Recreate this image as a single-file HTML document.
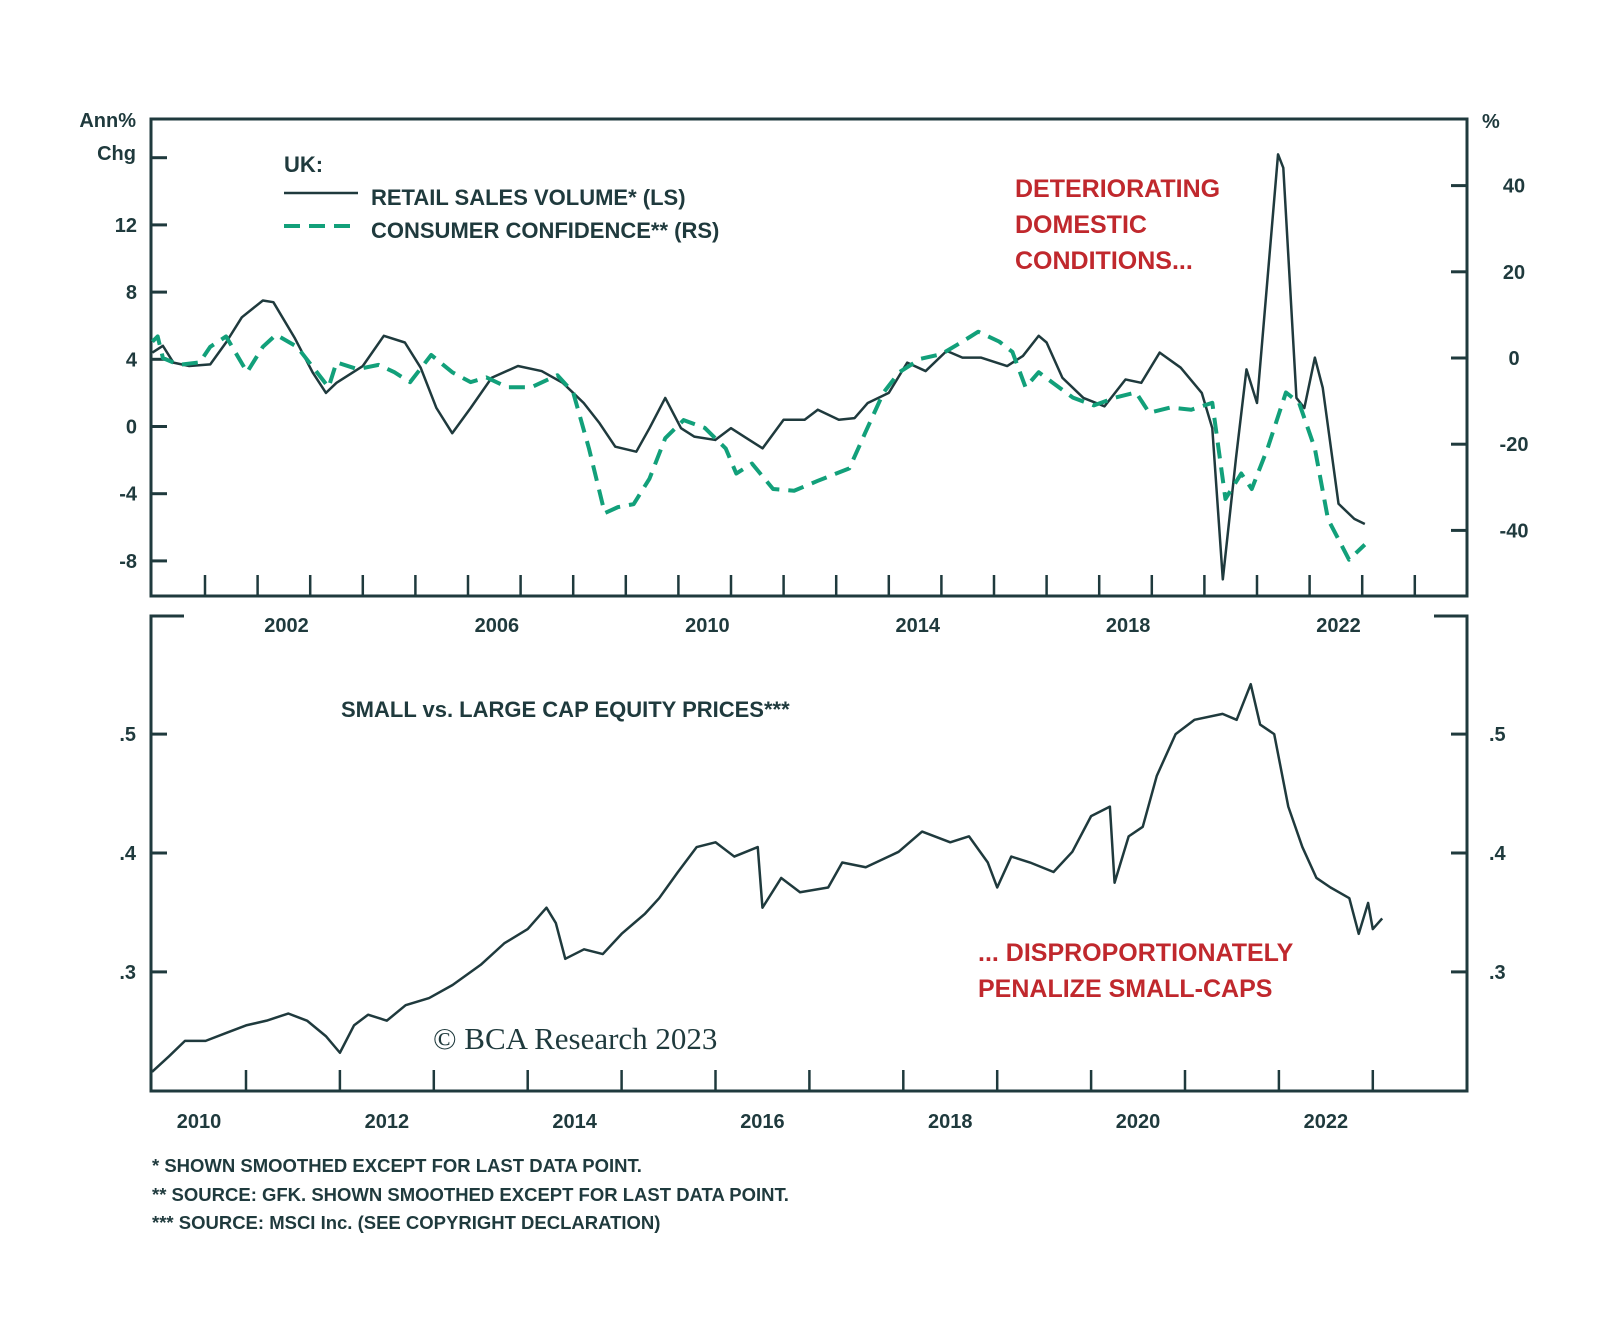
<!DOCTYPE html>
<html><head><meta charset="utf-8"><style>
html,body{margin:0;padding:0;background:#fff;}
svg{display:block;font-family:"Liberation Sans",sans-serif;}
.t{fill:#1f3a3d;font-weight:bold;font-size:20px;}
.lg{fill:#1f3a3d;font-weight:bold;font-size:22px;}
.r{fill:#c0282d;font-size:25px;font-weight:bold;}
.f{fill:#1f3a3d;font-size:18.5px;font-weight:bold;}
</style></head><body>
<svg id="chart" width="1600" height="1318" viewBox="0 0 1600 1318" xmlns="http://www.w3.org/2000/svg">
<g id="topPanel"></g>
<g id="botPanel"></g>
<text class="t" x="136" y="127" text-anchor="end">Ann%</text>
<text class="t" x="136" y="160" text-anchor="end">Chg</text>
<text class="t" x="1482" y="128">%</text>
<text class="lg" x="284" y="172">UK:</text>
<line x1="284" y1="193" x2="358" y2="193" stroke="#1f3a3d" stroke-width="2.5"/>
<text class="lg" x="371" y="205">RETAIL SALES VOLUME* (LS)</text>
<line x1="284" y1="226" x2="358" y2="226" stroke="#12a07a" stroke-width="4" stroke-dasharray="16 9"/>
<text class="lg" x="371" y="238">CONSUMER CONFIDENCE** (RS)</text>
<text class="r" x="1015" y="197">DETERIORATING</text>
<text class="r" x="1015" y="233">DOMESTIC</text>
<text class="r" x="1015" y="269">CONDITIONS...</text>
<text class="lg" x="341" y="717" font-size="21.5">SMALL vs. LARGE CAP EQUITY PRICES***</text>
<text class="r" x="978" y="961">... DISPROPORTIONATELY</text>
<text class="r" x="978" y="997">PENALIZE SMALL-CAPS</text>
<text x="433" y="1049" font-family="Liberation Serif, serif" font-size="31" fill="#1f3a3d">© BCA Research 2023</text>
<text class="f" x="152" y="1172">*  SHOWN SMOOTHED EXCEPT FOR LAST DATA POINT.</text>
<text class="f" x="152" y="1201">**  SOURCE: GFK. SHOWN SMOOTHED EXCEPT FOR LAST DATA POINT.</text>
<text class="f" x="152" y="1229">***  SOURCE: MSCI Inc. (SEE COPYRIGHT DECLARATION)</text>
</svg>
<script>
const retailYears=[2000.0,2000.2,2000.4,2000.7,2001.1,2001.4,2001.7,2002.1,2002.3,2002.7,2003.05,2003.3,2003.5,2004.0,2004.4,2004.8,2005.1,2005.4,2005.7,2006.05,2006.45,2006.95,2007.4,2007.8,2008.2,2008.5,2008.8,2009.2,2009.45,2009.75,2010.05,2010.3,2010.7,2011.0,2011.3,2011.6,2012.0,2012.4,2012.65,2013.05,2013.35,2013.6,2014.0,2014.35,2014.7,2015.1,2015.4,2015.75,2016.25,2016.55,2016.85,2017.0,2017.3,2017.7,2018.1,2018.5,2018.8,2019.15,2019.55,2019.95,2020.15,2020.35,2020.6,2020.8,2021.0,2021.4,2021.5,2021.75,2021.9,2022.1,2022.25,2022.55,2022.85,2023.05];
const retailValues=[4.4,4.8,3.8,3.6,3.7,5.0,6.5,7.5,7.4,5.3,3.2,2.0,2.6,3.6,5.4,5.0,3.5,1.1,-0.4,1.1,2.9,3.6,3.3,2.6,1.4,0.2,-1.2,-1.5,-0.1,1.7,-0.1,-0.6,-0.8,-0.1,-0.7,-1.3,0.4,0.4,1.0,0.4,0.5,1.4,2.0,3.8,3.3,4.5,4.1,4.1,3.6,4.2,5.4,5.0,2.9,1.7,1.2,2.8,2.6,4.4,3.5,2.0,-0.1,-9.1,-1.9,3.4,1.4,16.2,15.4,1.7,1.1,4.1,2.3,-4.6,-5.5,-5.8];
const confYears=[2000.0,2000.1,2000.2,2000.5,2000.9,2001.1,2001.4,2001.8,2002.1,2002.35,2002.75,2003.05,2003.35,2003.5,2003.9,2004.3,2004.6,2004.9,2005.3,2005.7,2006.05,2006.35,2006.75,2007.2,2007.7,2008.0,2008.3,2008.6,2008.85,2009.15,2009.45,2009.75,2010.1,2010.5,2010.9,2011.1,2011.4,2011.8,2012.2,2012.65,2013.25,2013.55,2013.9,2014.2,2014.6,2015.0,2015.4,2015.7,2016.1,2016.35,2016.6,2016.85,2017.1,2017.5,2017.9,2018.3,2018.7,2018.95,2019.35,2019.75,2020.15,2020.4,2020.7,2020.9,2021.2,2021.55,2021.8,2022.1,2022.35,2022.75,2023.05];
const confValues=[3.8,5,0,-1.6,-1,2.6,5,-3.3,2.6,5.4,2.6,-2.1,-6.8,-1,-2.6,-1.6,-3.3,-5.6,0.7,-3.3,-5.6,-4.5,-6.8,-6.8,-4,-8,-21,-36,-34.6,-33.9,-28,-18.6,-14.4,-16.2,-21,-26.8,-24.5,-30.4,-30.8,-28.5,-25.6,-17.4,-8,-3.3,-0.2,0.9,3.8,6.1,3.8,1.4,-6.8,-3.3,-5.6,-9.2,-11,-9.2,-8,-12.7,-11.5,-12,-10.4,-32.7,-26.8,-30.4,-21,-8,-10.4,-21,-37.4,-46.8,-43.3];
const capYears=[2010.0,2010.18,2010.35,2010.57,2010.8,2011.0,2011.22,2011.45,2011.65,2011.85,2012.0,2012.15,2012.3,2012.5,2012.7,2012.95,2013.2,2013.5,2013.75,2014.0,2014.2,2014.3,2014.4,2014.6,2014.8,2015.0,2015.25,2015.4,2015.6,2015.8,2016.0,2016.2,2016.45,2016.5,2016.7,2016.9,2017.2,2017.35,2017.6,2017.95,2018.2,2018.5,2018.7,2018.9,2019.0,2019.15,2019.35,2019.6,2019.8,2020.0,2020.2,2020.25,2020.4,2020.55,2020.7,2020.9,2021.1,2021.4,2021.55,2021.7,2021.8,2021.95,2022.1,2022.25,2022.4,2022.55,2022.75,2022.85,2022.95,2023.0,2023.1];
const capValues=[.216,.229,.242,.242,.249,.255,.259,.265,.259,.246,.232,.255,.264,.259,.272,.278,.289,.306,.324,.336,.354,.341,.311,.319,.315,.332,.349,.362,.384,.405,.409,.397,.405,.354,.379,.367,.371,.392,.388,.401,.418,.409,.414,.392,.371,.397,.392,.384,.401,.431,.439,.375,.414,.422,.465,.5,.512,.517,.512,.542,.508,.5,.439,.405,.379,.371,.362,.332,.358,.336,.345];
const leftTicks=[-8,-4,0,4,8,12,16];
const leftTickLabels=["-8","-4","0","4","8","12",""];
const rightTicks=[-40,-20,0,20,40];
const topYearLabels=[2002,2006,2010,2014,2018,2022];
const botTicks=[0.3,0.4,0.5];
const botTickLabels=[".3",".4",".5"];
const botYearLabels=[2010,2012,2014,2016,2018,2020,2022];

const NS="http://www.w3.org/2000/svg";
const C="#1f3a3d";
const L=151,R=1467,T1=119,B1=596,T2=616,B2=1091;
const xTop=y=>205+(y-2001)*52.6;
const yLeft=v=>426.5-v*16.8;
const yRight=v=>358-v*4.31;
const xBot=y=>246+(y-2011)*93.9;
const yBot=v=>853-(v-0.4)*1189;
function mk(tag,attrs,parent,txt){const e=document.createElementNS(NS,tag);for(const k in attrs)e.setAttribute(k,attrs[k]);if(txt!==undefined)e.textContent=txt;parent.appendChild(e);return e;}
const gTop=document.getElementById('topPanel'),gBot=document.getElementById('botPanel');
let e;
e=mk('rect',{x:L,y:T1,width:R-L,height:B1-T1,fill:'none',stroke:C,'stroke-width':3},gTop);


leftTicks.forEach((v,i)=>{
  e=mk('line',{x1:L,x2:L+16,y1:yLeft(v),y2:yLeft(v),stroke:C,'stroke-width':3},gTop);
  
  
  e=mk('text',{x:137,y:yLeft(v)+7,'text-anchor':'end','class':'t'},gTop,leftTickLabels[i]);
  
  
});
rightTicks.forEach(v=>{
  e=mk('line',{x1:R-16,x2:R,y1:yRight(v),y2:yRight(v),stroke:C,'stroke-width':3},gTop);
  
  
  e=mk('text',{x:1514,y:yRight(v)+7,'text-anchor':'middle','class':'t'},gTop,String(v));
  
  
});
for(let y=2001;y<=2024;y++){
  e=mk('line',{x1:xTop(y),x2:xTop(y),y1:B1-21,y2:B1,stroke:C,'stroke-width':2.5},gTop);
  
  
}
topYearLabels.forEach(y=>{
  e=mk('text',{x:xTop(y+0.55),y:632,'text-anchor':'middle','class':'t'},gTop,String(y));
  
  
});
e=mk('polyline',{points:retailYears.map((y,i)=>xTop(y)+','+yLeft(retailValues[i])).join(' '),fill:'none',stroke:C,'stroke-width':2.5,'stroke-linejoin':'round'},gTop);


e=mk('polyline',{points:confYears.map((y,i)=>xTop(y)+','+yRight(confValues[i])).join(' '),fill:'none',stroke:'#12a07a','stroke-width':4,'stroke-dasharray':'16 9','stroke-linejoin':'round'},gTop);



e=mk('path',{d:`M${L+33},${T2} H${L} V${B2} H${R} V${T2} H${R-33}`,fill:'none',stroke:C,'stroke-width':3},gBot);


botTicks.forEach((v,i)=>{
  e=mk('line',{x1:L,x2:L+16,y1:yBot(v),y2:yBot(v),stroke:C,'stroke-width':3},gBot);
  
  
  e=mk('line',{x1:R-16,x2:R,y1:yBot(v),y2:yBot(v),stroke:C,'stroke-width':3},gBot);
  
  
  e=mk('text',{x:136,y:yBot(v)+7,'text-anchor':'end','class':'t'},gBot,botTickLabels[i]);
  
  
  e=mk('text',{x:1489,y:yBot(v)+7,'class':'t'},gBot,botTickLabels[i]);
  
  
});
for(let y=2011;y<=2023;y++){
  e=mk('line',{x1:xBot(y),x2:xBot(y),y1:B2-21,y2:B2,stroke:C,'stroke-width':2.5},gBot);
  
  
}
botYearLabels.forEach(y=>{
  e=mk('text',{x:xBot(y+0.5),y:1128,'text-anchor':'middle','class':'t'},gBot,String(y));
  
  
});
e=mk('polyline',{points:capYears.map((y,i)=>xBot(y)+','+yBot(capValues[i])).join(' '),fill:'none',stroke:C,'stroke-width':2.5,'stroke-linejoin':'round'},gBot);


</script>
</body></html>
